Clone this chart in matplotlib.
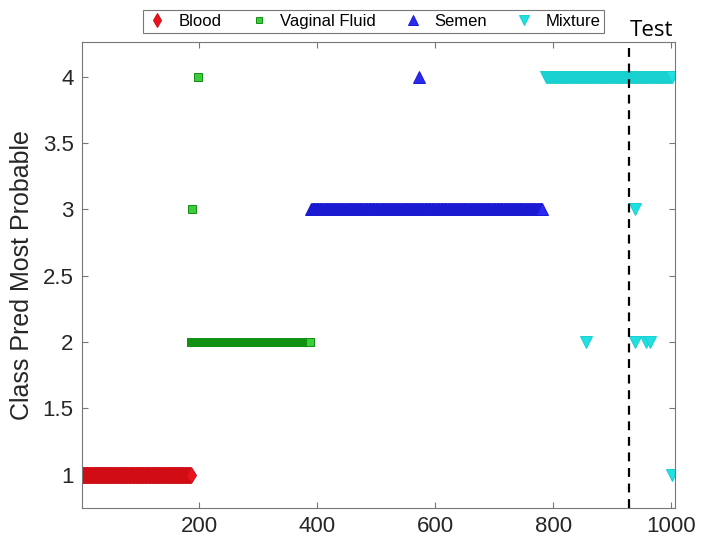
import numpy as np
import matplotlib
matplotlib.use("Agg")
import matplotlib.pyplot as plt

plt.rcParams["font.family"] = ["Liberation Sans", "DejaVu Sans"]

# sample index ranges with a constant predicted class (start, end, class)
blood_runs = [(1, 185, 1)]
vaginal_runs = [(185, 388, 2)]
semen_runs = [(390, 781, 3)]
mixture_runs = [(788, 1002, 4)]

# single outlying predictions (sample index, class)
vaginal_pts = [(188, 3), (198, 4)]
semen_pts = [(573, 4)]
mixture_pts = [(855, 2), (938, 2), (938, 3), (958, 2), (965, 2), (1002, 1)]

test_start = 929


def expand(runs, pts):
    xs, ys = [], []
    for a, b, c in runs:
        idx = np.arange(a, b + 1)
        xs.extend(idx)
        ys.extend([c] * len(idx))
    for x, c in pts:
        xs.append(x)
        ys.append(c)
    return np.array(xs), np.array(ys)


fig = plt.figure(figsize=(7.07, 5.41), dpi=100)
ax = fig.add_axes([0.116, 0.061, 0.839, 0.861])

styles = [
    ("Blood", blood_runs, [], "d", 8, "#e8141e", "#d00c14"),
    ("Vaginal Fluid", vaginal_runs, vaginal_pts, "s", 5.5, "#3ccc3c", "#129012"),
    ("Semen", semen_runs, semen_pts, "^", 8, "#2a2af0", "#1a1ad0"),
    ("Mixture", mixture_runs, mixture_pts, "v", 8, "#22e0e0", "#18d0d0"),
]

for name, runs, pts, mk, ms, fc, ec in styles:
    x, y = expand(runs, pts)
    ax.plot(x, y, linestyle="none", marker=mk, markersize=ms,
            markerfacecolor=fc, markeredgecolor=ec, markeredgewidth=0.7,
            label=name)

ax.axvline(test_start, color="black", linestyle=(0, (4, 3)), linewidth=1.6)
ax.text(test_start + 1, 4.27, "Test", fontsize=16, ha="left", va="bottom",
        family=["Open Sans", "DejaVu Sans"])

ax.set_xlim(1, 1007)
ax.set_ylim(0.75, 4.26)
ax.set_xticks([200, 400, 600, 800, 1000])
ax.set_yticks([1, 1.5, 2, 2.5, 3, 3.5, 4])
ax.set_yticklabels(["1", "1.5", "2", "2.5", "3", "3.5", "4"])
ax.tick_params(direction="in", top=True, right=True, labelsize=16,
               color="#777777", labelcolor="#262626", length=4, pad=6)
for s in ax.spines.values():
    s.set_color("#777777")

ax.set_ylabel("Class Pred Most Probable", fontsize=18, labelpad=6,
              color="#262626")

leg = ax.legend(loc="lower left", bbox_to_anchor=(0.103, 1.02), ncol=4,
                fontsize=12, frameon=True, fancybox=False, edgecolor="#555555",
                handletextpad=0.7, columnspacing=1.6, borderpad=0.25,
                handlelength=1.2, markerscale=0.85, borderaxespad=0)
leg.get_frame().set_linewidth(0.8)

fig.savefig("out.png", dpi=100)
